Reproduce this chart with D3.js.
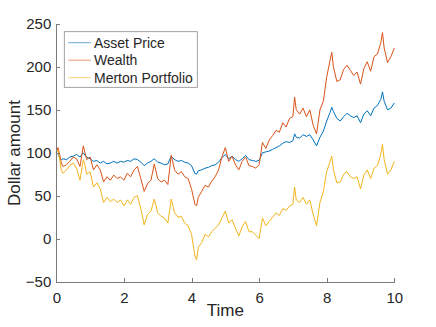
<!DOCTYPE html>
<meta charset="utf-8">
<style>
body { margin: 0; background: #fff; }
svg { font-family: "Liberation Sans", Arial, sans-serif; }
.axis path, .axis line { stroke: #7a7a7a; shape-rendering: crispEdges; }
.axis text { fill: #262626; font-size: 15px; }
.series { fill: none; stroke-width: 1px; stroke-linejoin: round; }
</style>
<body>
<script src="https://d3js.org/d3.v7.min.js"></script>
<script>

// time points
var times = [0, 0.05, 0.1, 0.15, 0.2, 0.3, 0.4, 0.5, 0.6, 0.7, 0.8, 0.85, 0.9,
  1.0, 1.1, 1.2, 1.3, 1.4, 1.5, 1.6, 1.7, 1.8, 1.9,
  2.0, 2.1, 2.2, 2.3, 2.4, 2.5, 2.6, 2.7, 2.8, 2.9,
  3.0, 3.1, 3.2, 3.3, 3.4, 3.5, 3.6, 3.7, 3.8, 3.9,
  4.0, 4.1, 4.15, 4.2, 4.3, 4.4, 4.5, 4.6, 4.7, 4.8, 4.9,
  5.0, 5.1, 5.2, 5.3, 5.4, 5.5, 5.6, 5.7, 5.8, 5.9,
  6.0, 6.1, 6.2, 6.3, 6.4, 6.5, 6.6, 6.7, 6.8, 6.9,
  7.0, 7.05, 7.1, 7.2, 7.3, 7.4, 7.5, 7.6, 7.7, 7.8, 7.9,
  8.0, 8.1, 8.15, 8.2, 8.3, 8.4, 8.5, 8.6, 8.7, 8.8, 8.9,
  9.0, 9.1, 9.2, 9.3, 9.4, 9.5, 9.6, 9.65, 9.7, 9.8, 9.9, 10.0];

var assetPrice = [100, 99, 94, 92, 93, 92, 95, 96, 98, 95, 100, 97, 95,
  93, 90, 91, 88, 90, 87, 88, 90, 88, 90,
  89, 91, 90, 93, 92, 89, 85, 88, 90, 93,
  89, 88, 86, 87, 96, 92, 90, 91, 89, 88,
  85, 76, 75, 79, 80, 82, 83, 85, 86, 89, 94,
  98, 93, 96, 92, 90, 93, 97, 92, 91, 90,
  91, 100, 101, 102, 104, 106, 108, 111, 113, 112,
  114, 122, 118, 117, 121, 119, 121, 115, 108, 118, 125,
  137, 147, 153, 148, 140, 137, 142, 146, 143, 141, 143,
  135, 145, 149, 143, 152, 155, 162, 171, 160, 150, 152, 158];

var wealth = [100, 106, 98, 88, 84, 86, 90, 95, 93, 84, 108, 100, 92,
  95, 80, 86, 80, 66, 72, 68, 74, 70, 72,
  68, 76, 72, 80, 84, 70, 55, 64, 68, 87,
  70, 66, 68, 63, 97, 80, 75, 78, 72, 70,
  58, 40, 38, 48, 55, 62, 60, 67, 72, 80, 95,
  106, 90, 96, 86, 80, 90, 95, 85, 84, 82,
  86, 112, 105, 115, 120, 126, 124, 135, 130, 140,
  142, 165, 150, 145, 152, 142, 150, 132, 122, 150, 160,
  188, 208, 217, 200, 183, 185, 197, 202, 196, 190, 194,
  180, 198, 206, 195, 212, 215, 228, 240, 222, 205, 212, 222];

var merton = [100, 103, 92, 80, 76, 80, 85, 88, 82, 68, 92, 85, 75,
  78, 60, 65, 58, 42, 48, 43, 46, 42, 45,
  38, 45, 40, 48, 50, 35, 16, 28, 32, 46,
  30, 26, 24, 18, 46, 30, 25, 26, 18, 15,
  5, -20, -25, -10, -5, 5, 2, 8, 12, 16, 24,
  32, 18, 22, 12, 3, 14, 20, 8, 8, 4,
  0, 24, 15, 20, 25, 30, 27, 35, 33, 38,
  40, 60, 45, 42, 48, 40, 45, 28, 15, 42, 55,
  78, 90, 96, 80, 65, 66, 75, 78, 72, 70, 72,
  58, 74, 80, 70, 82, 85, 98, 110, 92, 75, 80, 90];

var seriesNames = ["Asset Price", "Wealth", "Merton Portfolio"];
var seriesColors = ["#0072BD", "#D95319", "#F2B51C"];
var xTicks = [0, 2, 4, 6, 8, 10];
var yTicks = [-50, 0, 50, 100, 150, 200, 250];

var W = 436, H = 327;
var margin = {top: 24, right: 41.7, bottom: 45.5, left: 56.3},
    width = W - margin.left - margin.right,
    height = H - margin.top - margin.bottom;

var x = d3.scaleLinear().domain([0, 10]).range([0, width]);
var y = d3.scaleLinear().domain([-50, 250]).range([height, 0]);

var svg = d3.select("body").append("svg")
    .attr("width", W)
    .attr("height", H)
  .append("g")
    .attr("transform", "translate(" + margin.left + "," + margin.top + ")");

// lines
var allSeries = [assetPrice, wealth, merton];
var line = d3.line()
    .x(function(d, i) { return x(times[i]); })
    .y(function(d) { return y(d); });

allSeries.forEach(function(vals, k) {
  svg.append("path")
    .datum(vals)
    .attr("class", "series")
    .attr("stroke", seriesColors[k])
    .attr("d", line);
});

// axes, ticks inside like matlab
var gx = svg.append("g")
  .attr("class", "axis")
  .attr("transform", "translate(0," + height + ")")
  .call(d3.axisBottom(x).tickValues(xTicks).tickSize(-3.5).tickPadding(7).tickSizeOuter(0));
gx.selectAll("text").attr("dy", "0.95em");

var gy = svg.append("g")
  .attr("class", "axis")
  .call(d3.axisLeft(y).tickValues(yTicks).tickSize(-3.5).tickPadding(5).tickSizeOuter(0));
gy.selectAll("text").attr("x", -5);

// axis labels
svg.append("text")
  .attr("text-anchor", "middle")
  .attr("x", width / 2)
  .attr("y", height + 34)
  .style("font-size", "17px")
  .style("fill", "#262626")
  .text("Time");

svg.append("text")
  .attr("text-anchor", "middle")
  .attr("transform", "rotate(-90)")
  .attr("x", -(153 - margin.top))
  .attr("y", -margin.left + 20)
  .style("font-size", "17px")
  .style("fill", "#262626")
  .text("Dollar amount");

// legend
var legend = svg.append("g")
  .attr("transform", "translate(" + (64.3 - margin.left) + "," + (31.7 - margin.top) + ")");

legend.append("rect")
  .attr("width", 133)
  .attr("height", 55.6)
  .attr("fill", "#fff")
  .attr("stroke", "#8a8a8a")
  .attr("stroke-width", 0.8);

seriesNames.forEach(function(name, k) {
  var ly = 11 + k * 17.5;
  legend.append("line")
    .attr("x1", 4).attr("x2", 26.5)
    .attr("y1", ly).attr("y2", ly)
    .attr("stroke", seriesColors[k])
    .attr("stroke-width", 0.6);
  legend.append("text")
    .attr("x", 29.7)
    .attr("y", ly)
    .attr("dy", "0.35em")
    .style("font-size", "14px")
    .style("fill", "#262626")
    .text(name);
});

</script>
</body>
